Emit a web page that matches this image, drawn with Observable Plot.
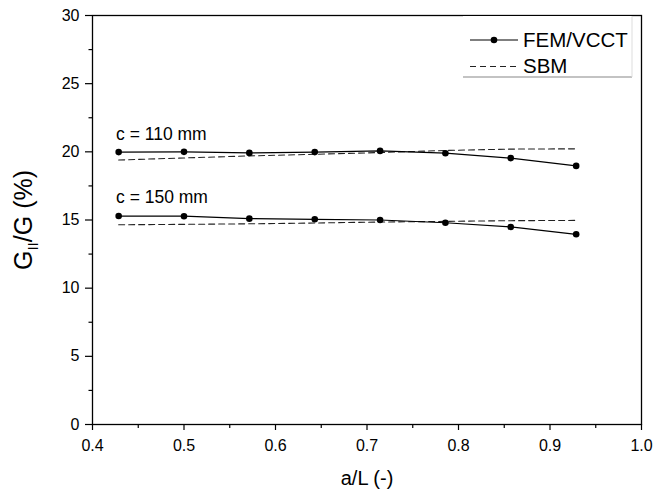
<!DOCTYPE html>
<html>
<head>
<meta charset="utf-8">
<script src="https://cdn.jsdelivr.net/npm/d3@7"></script>
<script src="https://cdn.jsdelivr.net/npm/@observablehq/plot@0.6"></script>
<style>
  html, body { margin: 0; padding: 0; background: #fff; }
  #chart { width: 654px; height: 492px; }
  svg { font-family: Arial, "Liberation Sans", sans-serif; }
</style>
</head>
<body>
<div id="chart"></div>
<script>
// ---- data ----
const aL = [0.4286, 0.5, 0.5714, 0.6429, 0.7143, 0.7857, 0.8571, 0.9286];
const fem110 = [19.98, 20.0, 19.92, 19.98, 20.07, 19.9, 19.54, 18.97];
const sbm110 = [19.4, 19.55, 19.7, 19.82, 19.95, 20.1, 20.2, 20.22];
const fem150 = [15.29, 15.28, 15.1, 15.05, 15.0, 14.8, 14.49, 13.95];
const sbm150 = [14.65, 14.68, 14.72, 14.78, 14.85, 14.9, 14.95, 14.97];

const xTicks = [0.4, 0.5, 0.6, 0.7, 0.8, 0.9, 1.0];
const xMinor = [0.45, 0.55, 0.65, 0.75, 0.85, 0.95];
const yTicks = [0, 5, 10, 15, 20, 25, 30];
const yMinor = [2.5, 7.5, 12.5, 17.5, 22.5, 27.5];

const annText = ["c = 110 mm", "c = 150 mm"];
const annX = [0.4257, 0.4257];
const annY = [21.27, 16.65];

const xLabel = "a/L (-)";
const legendLabels = ["FEM/VCCT", "SBM"];

// ---- tables ----
const femRows = [
  ...aL.map((x, i) => ({x, y: fem110[i], c: "110"})),
  ...aL.map((x, i) => ({x, y: fem150[i], c: "150"}))
];
const sbmRows = [
  ...aL.map((x, i) => ({x, y: sbm110[i], c: "110"})),
  ...aL.map((x, i) => ({x, y: sbm150[i], c: "150"}))
];
const annRows = annText.map((t, i) => ({x: annX[i], y: annY[i], t}));

const svg = Plot.plot({
  width: 654,
  height: 492,
  marginLeft: 92,
  marginRight: 13,
  marginTop: 15,
  marginBottom: 68,
  style: {fontFamily: "Arial, 'Liberation Sans', sans-serif", background: "#fff", color: "#000"},
  x: {domain: [0.4, 1.0]},
  y: {domain: [0, 30]},
  marks: [
    Plot.axisX(xMinor, {tickSize: 4, text: null, strokeWidth: 1.2, label: null}),
    Plot.axisX(xTicks, {tickSize: 6, tickPadding: 9, tickFormat: d3.format(".1f"), fontSize: 16, strokeWidth: 1.2, label: null}),
    Plot.axisY(yMinor, {tickSize: 3.5, text: null, strokeWidth: 1.2, label: null}),
    Plot.axisY(yTicks, {tickSize: 7, tickPadding: 6, tickFormat: d3.format("d"), fontSize: 16, strokeWidth: 1.2, label: null}),
    Plot.line(sbmRows, {x: "x", y: "y", z: "c", stroke: "#222", strokeWidth: 1.1, strokeDasharray: "6,4"}),
    Plot.line(femRows, {x: "x", y: "y", z: "c", stroke: "#000", strokeWidth: 1.2}),
    Plot.dot(femRows, {x: "x", y: "y", r: 3.3, fill: "#000", stroke: "none"}),
    Plot.text(annRows, {x: "x", y: "y", text: "t", textAnchor: "start", fontSize: 17.5, fill: "#000"}),
    Plot.text([xLabel], {frameAnchor: "bottom", dy: 60, lineAnchor: "bottom", fontSize: 20, fill: "#000"}),
    Plot.frame({stroke: "#000", strokeWidth: 1.3})
  ]
});

document.getElementById("chart").appendChild(svg);

// ---- y-axis label with subscript ----
const s = d3.select(svg);
const yl = s.append("text")
  .attr("transform", "translate(32,220) rotate(-90)")
  .attr("text-anchor", "middle")
  .attr("font-size", 25)
  .attr("fill", "#000");
yl.append("tspan").text("G");
yl.append("tspan").attr("font-size", 15).attr("dy", 6).text("II");
yl.append("tspan").attr("dy", -6).text("/G (%)");

// ---- legend ----
const lg = s.append("g").attr("text-anchor", "start");
lg.append("rect").attr("x", 463).attr("y", 16).attr("width", 169).attr("height", 61)
  .attr("fill", "#fff").attr("stroke", "none");
lg.append("line").attr("x1", 463).attr("x2", 632).attr("y1", 77).attr("y2", 77)
  .attr("stroke", "#888").attr("stroke-width", 1.2);
lg.append("line").attr("x1", 632).attr("x2", 632).attr("y1", 16).attr("y2", 77)
  .attr("stroke", "#ddd").attr("stroke-width", 1);
lg.append("line").attr("x1", 470).attr("x2", 518).attr("y1", 40).attr("y2", 40)
  .attr("stroke", "#000").attr("stroke-width", 1.2);
lg.append("circle").attr("cx", 494).attr("cy", 40).attr("r", 3.3).attr("fill", "#000");
lg.append("line").attr("x1", 470).attr("x2", 518).attr("y1", 66.5).attr("y2", 66.5)
  .attr("stroke", "#222").attr("stroke-width", 1.1).attr("stroke-dasharray", "6,4");
lg.append("text").attr("x", 523).attr("y", 46.5).attr("text-anchor", "start").attr("font-size", 20.5).attr("fill", "#000").text(legendLabels[0]);
lg.append("text").attr("x", 523).attr("y", 73).attr("text-anchor", "start").attr("font-size", 20.5).attr("fill", "#000").text(legendLabels[1]);
</script>
</body>
</html>
